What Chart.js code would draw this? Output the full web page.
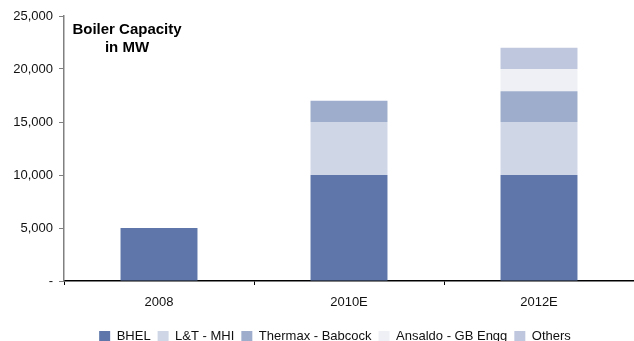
<!DOCTYPE html>
<html>
<head>
<meta charset="utf-8">
<script src="https://cdn.jsdelivr.net/npm/chart.js@4"></script>
<style>
  html, body { margin: 0; padding: 0; background: #fff; }
  #wrap { width: 634px; height: 341px; position: relative; }
</style>
</head>
<body>
<div id="wrap"><canvas id="boilerChart" width="634" height="341"></canvas></div>
<script>
const years = ["2008", "2010E", "2012E"];
const bhel = [5000, 10000, 10000];
const ltMhi = [0, 5000, 5000];
const thermax = [0, 2000, 2900];
const ansaldo = [0, 0, 2100];
const others = [0, 0, 2000];
const seriesNames = ["BHEL", "L&T - MHI", "Thermax - Babcock", "Ansaldo - GB Engg", "Others"];
const seriesColors = ["#5E76A9", "#CFD6E6", "#9DADCB", "#EFF0F5", "#BEC7DE"];

const fontFamily = "'Liberation Sans', Arial, sans-serif";

// chart label written inside the plot, top left
const titleNote = {
  id: "titleNote",
  afterDraw(chart) {
    const { ctx, chartArea } = chart;
    ctx.save();
    ctx.font = `bold 15px ${fontFamily}`;
    ctx.fillStyle = "#000";
    ctx.textAlign = "center";
    ctx.textBaseline = "middle";
    const cx = chartArea.left + 63;
    ctx.fillText("Boiler Capacity", cx, chartArea.top + 14);
    ctx.fillText("in MW", cx, chartArea.top + 32);
    ctx.restore();
  }
};

// legend in the original sits a bit right of centre
const legendShift = {
  id: "legendShift",
  afterLayout(chart) {
    if (chart.legend) chart.legend.left += 36;
  }
};

const makeSet = (label, data, color) => ({
  label, data, backgroundColor: color, borderWidth: 0,
  barPercentage: 0.405, categoryPercentage: 1
});

new Chart(document.getElementById("boilerChart"), {
  type: "bar",
  data: {
    labels: years,
    datasets: [
      makeSet(seriesNames[0], bhel, seriesColors[0]),
      makeSet(seriesNames[1], ltMhi, seriesColors[1]),
      makeSet(seriesNames[2], thermax, seriesColors[2]),
      makeSet(seriesNames[3], ansaldo, seriesColors[3]),
      makeSet(seriesNames[4], others, seriesColors[4])
    ]
  },
  options: {
    responsive: false,
    animation: false,
    layout: { padding: { top: 16, right: 0, bottom: -12, left: 0 } },
    plugins: {
      tooltip: { enabled: false },
      legend: {
        position: "bottom",
        labels: {
          boxWidth: 11, boxHeight: 11, padding: 7,
          color: "#111", font: { family: fontFamily, size: 13 }
        }
      }
    },
    scales: {
      x: {
        stacked: true,
        border: { color: "#000", width: 1.5 },
        grid: { offset: true, drawOnChartArea: false, tickLength: 4, color: "#000" },
        ticks: { color: "#111", font: { family: fontFamily, size: 13 }, padding: 10 },
        afterFit: (scale) => { scale.height = 42; }
      },
      y: {
        stacked: true,
        min: 0, max: 25000,
        border: { color: "#808080", width: 1.5 },
        grid: { drawOnChartArea: false, tickLength: 5, color: "#808080" },
        ticks: {
          stepSize: 5000, color: "#111", padding: 6,
          font: { family: fontFamily, size: 13 },
          callback: (v) => v === 0 ? "-" : v.toLocaleString("en-US")
        },
        afterFit: (scale) => { scale.width = 64; }
      }
    }
  },
  plugins: [titleNote, legendShift]
});
</script>
</body>
</html>
